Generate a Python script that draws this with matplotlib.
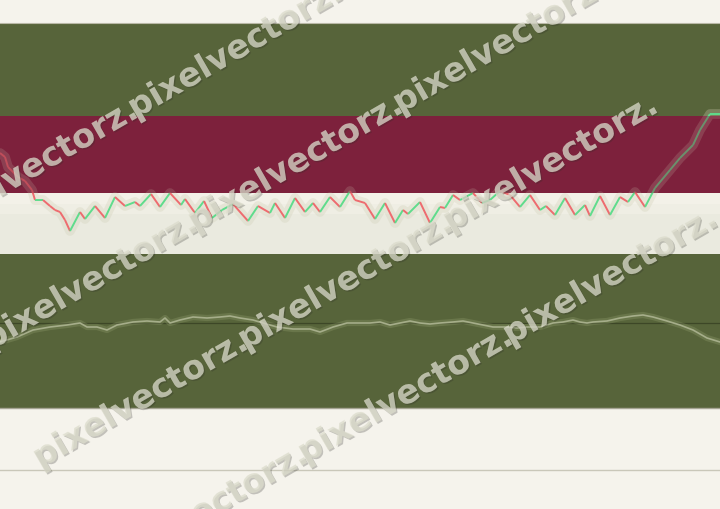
#!/usr/bin/env python3
"""Price line with up/down colouring over banded background, plus an oscillator panel."""

import matplotlib
matplotlib.use("Agg")
import matplotlib.pyplot as plt
import matplotlib.patheffects as pe
from matplotlib.collections import LineCollection
import numpy as np


# price series (time step, price)
PRICE_T = [0, 5, 8, 18, 25, 32, 35, 43, 50, 55, 60, 65, 70, 80, 85, 95, 105, 115, 125, 135,
           140, 151, 160, 170, 181, 185, 195, 204, 212, 222, 233, 248, 258, 270, 275, 285, 295, 305, 313, 320,
           330, 340, 350, 355, 365, 375, 385, 395, 403, 408, 420, 430, 440, 445, 453, 460, 473, 482, 490, 500,
           510, 520, 530, 540, 546, 555, 565, 575, 585, 590, 600, 610, 620, 628, 635, 645, 655, 670, 680, 693,
           700, 710, 720]
PRICE = [101, 97, 87, 77, 73, 64, 54, 54, 48, 44, 42, 34, 23, 42, 35, 48, 36, 57, 48, 52,
         48, 60, 47, 61, 49, 55, 41, 53, 36, 44, 50, 33, 48, 41, 51, 36, 56, 42, 51, 42,
         57, 47, 63, 54, 51, 35, 51, 31, 44, 40, 52, 31, 47, 46, 59, 54, 61, 51, 54, 63,
         59, 47, 59, 44, 48, 39, 56, 39, 49, 38, 58, 39, 57, 52, 62, 47, 66, 84, 96, 109,
         124, 140, 140]

# oscillator panel
OSC_T = [0, 17, 33, 50, 67, 80, 87, 97, 107, 117, 133, 147, 160, 165, 170, 180, 193, 207, 220, 230,
         240, 253, 263, 277, 293, 310, 320, 333, 347, 360, 370, 380, 390, 400, 410, 420, 430, 440, 453, 463,
         473, 483, 493, 507, 517, 527, 540, 553, 563, 573, 580, 587, 593, 607, 620, 633, 643, 653, 667, 680,
         693, 707, 720]
OSC = [-19, -14, -7, -4, -2, 0, -4, -4, -7, -2, 1, 2, 1, 5, 0, 3, 6, 5, 6, 7,
       5, 3, 0, -4, -6, -6, -9, -4, 0, 0, 0, 1, -2, 0, 2, 0, -1, 0, 1, 2,
       0, -2, -4, -4, -5, -4, -4, 0, 1, 3, 1, 0, 1, 2, 5, 7, 8, 6, 2, -2,
       -7, -15, -19]

# price zones
ZONE_LOW = [0, 61.5]
ZONE_HIGH = [61.5, 138.5]

WATERMARK = "pixelvectorz."

CREAM = "#f5f3ec"
OLIVE = "#57643a"
MAROON = "#7d213c"
UP = "#5fdc8c"
DOWN = "#ee6b6f"


def add_watermark(fig):
    w, h = 720.0, 509.0
    slope = np.tan(np.radians(30))
    rows = [(197, [140, 345]), (345, [200, 405, 610]), (492, [250, 455, 660]), (640, [310, 515, 720])]
    for intercept, ends in rows:
        for xe in ends:
            ye = intercept - slope * xe
            fig.text(xe / w, 1 - ye / h, WATERMARK, fontsize=24, fontweight="bold",
                     color="#dcdccc", alpha=0.5, rotation=30, rotation_mode="anchor",
                     ha="right", va="baseline", zorder=10,
                     path_effects=[pe.withSimplePatchShadow(offset=(1.0, -1.0), shadow_rgbFace="#2b2b25",
                                                            alpha=0.25),
                                   pe.Normal()])


def main():
    fig = plt.figure(figsize=(7.2, 5.09), dpi=100, facecolor=CREAM)

    # price panel
    ax = fig.add_axes([0, (509 - 254) / 509, 1, 231 / 509])
    ax.set_facecolor(OLIVE)
    ax.set_xlim(0, 720)
    ax.set_ylim(0, 231)
    ax.axhspan(ZONE_LOW[0], 40, color="#eaeadf", lw=0, zorder=0)
    ax.axhspan(40, 50, color="#efeee4", lw=0, zorder=0)
    ax.axhspan(50, ZONE_LOW[1], color="#f3f1e8", lw=0, zorder=0)
    ax.axhspan(ZONE_HIGH[0], ZONE_HIGH[1], color=MAROON, lw=0, zorder=0)

    t = np.array(PRICE_T, dtype=float)
    p = np.array(PRICE, dtype=float)
    ax.plot(t, p, color="#cfcdb4", lw=7, alpha=0.3, solid_capstyle="round", zorder=1)
    segs = np.stack([np.column_stack([t[:-1], p[:-1]]), np.column_stack([t[1:], p[1:]])], axis=1)
    colors = [UP if b >= a else DOWN for a, b in zip(p[:-1], p[1:])]
    ax.add_collection(LineCollection(segs, colors=colors, linewidths=1.4, zorder=2))
    # tint of the upper zone over the line
    ax.axhspan(ZONE_HIGH[0], ZONE_HIGH[1], color=MAROON, alpha=0.4, lw=0, zorder=3)

    ax.set_xticks([])
    ax.set_yticks([])
    for side in ("left", "right", "bottom"):
        ax.spines[side].set_visible(False)
    ax.spines["top"].set_color("#b9b8a6")
    ax.spines["top"].set_linewidth(0.8)

    # oscillator panel
    ax2 = fig.add_axes([0, (509 - 408) / 509, 1, 154 / 509])
    ax2.set_facecolor(OLIVE)
    ax2.set_xlim(0, 720)
    ax2.set_ylim(-85, 69)
    ax2.axhline(0, color="#3d4727", lw=0.9, zorder=1)
    ax2.plot(OSC_T, OSC, color="#95a070", lw=4.5, alpha=0.3, zorder=2)
    ax2.plot(OSC_T, OSC, color="#a6ae8a", lw=1.2, zorder=3)
    ax2.set_xticks([])
    ax2.set_yticks([])
    for side in ("left", "right", "top"):
        ax2.spines[side].set_visible(False)
    ax2.spines["bottom"].set_color("#a6a594")
    ax2.spines["bottom"].set_linewidth(1.0)

    # time axis line
    fig.add_artist(plt.Line2D([0, 1], [1 - 470 / 509] * 2, transform=fig.transFigure,
                              color="#c9c7b9", lw=1.0))

    add_watermark(fig)
    fig.savefig("out.png", dpi=100, facecolor=CREAM)
    plt.close(fig)


if __name__ == "__main__":
    main()
